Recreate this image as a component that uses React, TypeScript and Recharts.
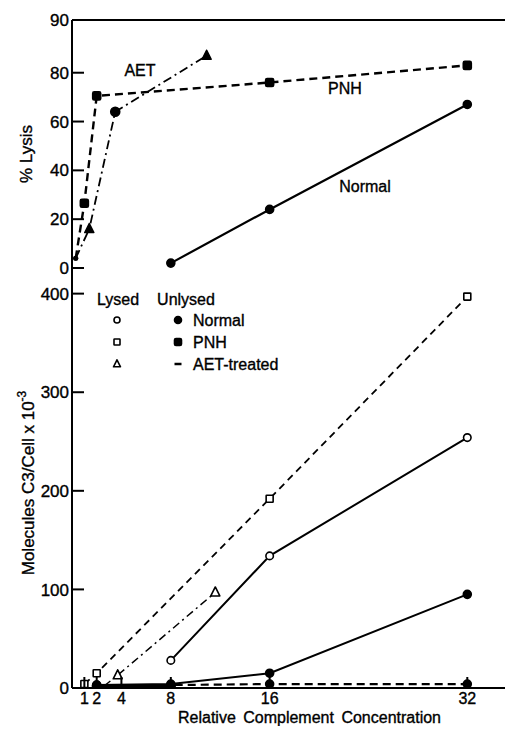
import React from 'react';
import { LineChart, Line, XAxis, YAxis, ReferenceLine } from 'recharts';

// ---------- axes ----------
const concTicks = [1, 2, 4, 8, 16, 32];
const concMax = 35.7;
const lysisTicks = [0, 20, 40, 60, 80, 101.6];
const lysisTickLabels = ['0', '20', '40', '60', '80', '90'];
const lysisMax = 101.6;
const c3Ticks = [0, 100, 200, 300, 400];
const c3Max = 426;

// ---------- top panel: % lysis ----------
const lysisNormalX = [8, 16, 32];
const lysisNormalY = [2, 24, 67];
const lysisPnhX = [0.3, 1, 2, 16, 32];
const lysisPnhY = [4, 26.5, 70.5, 76, 83];
const lysisAetX = [0.3, 1.4, 3.5, 10.9];
const lysisAetY = [4, 16, 64, 87];

// ---------- bottom panel: molecules C3 / cell ----------
const normalLysedX = [8, 16, 32];
const normalLysedY = [28, 134, 254];
const normalUnlysedX = [2, 8, 16, 32];
const normalUnlysedY = [3, 4, 15, 95];
const pnhLysedX = [1, 2, 16, 32];
const pnhLysedY = [4, 15, 192, 397];
const pnhUnlysedX = [2, 8, 16, 32];
const pnhUnlysedY = [3, 3, 4, 4];
const aetLysedX = [2.6, 3.7, 11.6];
const aetLysedY = [2, 13, 97];
const aetUnlysedX = [2, 4, 8];
const aetUnlysedY = [2, 2, 2];

const zip = (xs: number[], ys: number[]) => xs.map((x, i) => ({ x, y: ys[i] }));

const FONT = '"Liberation Sans", Arial, sans-serif';
const TXT = { stroke: '#000', strokeWidth: 0.35 };

type Shape = 'circle' | 'square' | 'triangle' | 'dash' | 'small' | 'none';

function Marker({ cx, cy, shape, filled, size }: { cx: number; cy: number; shape: Shape; filled: boolean; size: number }) {
  const fill = filled ? '#000' : '#fff';
  const sw = 1.6;
  if (shape === 'circle') return <circle cx={cx} cy={cy} r={size / 2} fill={fill} stroke="#000" strokeWidth={sw} />;
  if (shape === 'square')
    return <rect x={cx - size / 2} y={cy - size / 2} width={size} height={size} rx={filled ? 1.5 : 0.5} fill={fill} stroke="#000" strokeWidth={sw} />;
  if (shape === 'triangle') {
    const pts = `${cx},${cy - size * 0.6} ${cx - size / 2},${cy + size * 0.4} ${cx + size / 2},${cy + size * 0.4}`;
    return <polygon points={pts} fill={fill} stroke="#000" strokeWidth={sw} strokeLinejoin="round" />;
  }
  if (shape === 'dash') return <line x1={cx - size / 2} x2={cx + size / 2} y1={cy} y2={cy} stroke="#000" strokeWidth={2.5} />;
  if (shape === 'small') return <circle cx={cx} cy={cy} r={2.5} fill="#000" />;
  return null;
}

const makeDot = (shapes: Shape[], filled: boolean, size: number) => (props: any) => {
  const { cx, cy, index } = props;
  return (
    <g key={`dot-${index}`}>
      <Marker cx={cx} cy={cy} shape={shapes[index]} filled={filled} size={size} />
    </g>
  );
};

const XTick = (showLabel: boolean) => (props: any) => {
  const { x, y, payload } = props;
  return (
    <g>
      <line x1={x} x2={x} y1={y} y2={y - 11} stroke="#000" strokeWidth={2} />
      {showLabel && (
        <text x={x} y={y + 16} textAnchor="middle" fontSize={16} fontFamily={FONT} fill="#000" {...TXT}>
          {payload.value}
        </text>
      )}
    </g>
  );
};

const YTick = (labels: string[] | null, ticks: number[], max: number) => (props: any) => {
  const { x, y, payload } = props;
  const i = ticks.indexOf(payload.value);
  const label = labels ? labels[i] : String(payload.value);
  return (
    <g>
      {payload.value !== max && <line x1={x} x2={x + 12} y1={y} y2={y} stroke="#000" strokeWidth={2} />}
      <text x={x - 3} y={y} dy="0.36em" textAnchor="end" fontSize={17} fontFamily={FONT} fill="#000" {...TXT}>
        {label}
      </text>
    </g>
  );
};

const axisLine = { stroke: '#000', strokeWidth: 2 };

export default function App() {
  return (
    <div style={{ position: 'relative', width: 505, height: 718, fontFamily: FONT }}>
      {/* top panel */}
      <div style={{ position: 'absolute', left: 0, top: 0 }}>
        <LineChart width={505} height={280} margin={{ top: 12, right: 0, bottom: 20, left: 0 }}>
          <XAxis
            type="number"
            dataKey="x"
            domain={[0, concMax]}
            ticks={concTicks}
            interval={0}
            allowDataOverflow
            height={0}
            tickSize={0}
            tickMargin={0}
            tickLine={false}
            axisLine={axisLine}
            tick={XTick(false)}
          />
          <YAxis
            type="number"
            domain={[0, lysisMax]}
            ticks={lysisTicks}
            interval={0}
            allowDataOverflow
            width={64}
            tickSize={0}
            tickMargin={0}
            tickLine={false}
            axisLine={axisLine}
            tick={YTick(lysisTickLabels, lysisTicks, lysisMax)}
          />
          <ReferenceLine y={lysisMax} stroke="#000" strokeWidth={2} />
          <Line data={zip(lysisNormalX, lysisNormalY)} dataKey="y" type="linear" stroke="#000" strokeWidth={2.2}
            dot={makeDot(['circle', 'circle', 'circle'], true, 8)} activeDot={false} isAnimationActive={false} />
          <Line data={zip(lysisPnhX, lysisPnhY)} dataKey="y" type="linear" stroke="#000" strokeWidth={2.4} strokeDasharray="8 5"
            dot={makeDot(['small', 'square', 'square', 'square', 'square'], true, 8)} activeDot={false} isAnimationActive={false} />
          <Line data={zip(lysisAetX, lysisAetY)} dataKey="y" type="linear" stroke="#000" strokeWidth={1.8} strokeDasharray="9 4 2 4"
            dot={makeDot(['small', 'triangle', 'circle', 'triangle'], true, 9)} activeDot={false} isAnimationActive={false} />
        </LineChart>
      </div>

      {/* bottom panel */}
      <div style={{ position: 'absolute', left: 0, top: 260 }}>
        <LineChart width={505} height={458} margin={{ top: 0, right: 0, bottom: 0, left: 0 }}>
          <XAxis
            type="number"
            dataKey="x"
            domain={[0, concMax]}
            ticks={concTicks}
            interval={0}
            allowDataOverflow
            height={38}
            tickSize={0}
            tickMargin={0}
            tickLine={false}
            axisLine={axisLine}
            tick={XTick(true)}
          />
          <YAxis
            type="number"
            domain={[0, c3Max]}
            ticks={c3Ticks}
            interval={0}
            allowDataOverflow
            width={64}
            tickSize={0}
            tickMargin={0}
            tickLine={false}
            axisLine={axisLine}
            tick={YTick(null, c3Ticks, -1)}
          />
          <Line data={zip(aetUnlysedX, aetUnlysedY)} dataKey="y" type="linear" stroke="#000" strokeWidth={2.5}
            dot={makeDot(['dash', 'dash', 'dash'], true, 10)} activeDot={false} isAnimationActive={false} />
          <Line data={zip(pnhUnlysedX, pnhUnlysedY)} dataKey="y" type="linear" stroke="#000" strokeWidth={2.2} strokeDasharray="8 5"
            dot={makeDot(['circle', 'circle', 'circle', 'circle'], true, 8)} activeDot={false} isAnimationActive={false} />
          <Line data={zip(normalUnlysedX, normalUnlysedY)} dataKey="y" type="linear" stroke="#000" strokeWidth={2}
            dot={makeDot(['circle', 'circle', 'circle', 'circle'], true, 8)} activeDot={false} isAnimationActive={false} />
          <Line data={zip(normalLysedX, normalLysedY)} dataKey="y" type="linear" stroke="#000" strokeWidth={2}
            dot={makeDot(['circle', 'circle', 'circle'], false, 7.5)} activeDot={false} isAnimationActive={false} />
          <Line data={zip(pnhLysedX, pnhLysedY)} dataKey="y" type="linear" stroke="#000" strokeWidth={1.8} strokeDasharray="7 5"
            dot={makeDot(['square', 'square', 'square', 'square'], false, 7)} activeDot={false} isAnimationActive={false} />
          <Line data={zip(aetLysedX, aetLysedY)} dataKey="y" type="linear" stroke="#000" strokeWidth={1.5} strokeDasharray="8 4 2 4"
            dot={makeDot(['none', 'triangle', 'triangle'], false, 9)} activeDot={false} isAnimationActive={false} />
        </LineChart>
      </div>

      {/* annotations, legend and axis titles */}
      <svg width={505} height={718} style={{ position: 'absolute', left: 0, top: 0, pointerEvents: 'none' }}>
        <g fontFamily={FONT} fontSize={16} fill="#000" textAnchor="middle" {...TXT}>
          <text x={132} y={62} dy="0.36em">AET</text>
          <text x={337} y={80} dy="0.36em">PNH</text>
          <text x={357} y={178} dy="0.36em">Normal</text>
          <text transform="translate(18,146) rotate(-90)" dy="0.36em" fontSize={17}>% Lysis</text>
          <text transform="translate(20,475) rotate(-90)" dy="0.36em" fontSize={17}>
            Molecules C3/Cell x 10<tspan fontSize={12} dy="-0.7em">-3</tspan>
          </text>
          <text x={301.5} y={709} dy="0.36em" fontSize={16} wordSpacing={3}>Relative Complement Concentration</text>
          <text x={110} y={291} dy="0.36em">Lysed</text>
          <text x={178} y={291} dy="0.36em">Unlysed</text>
        </g>
        <g fontFamily={FONT} fontSize={16} fill="#000" textAnchor="start" {...TXT}>
          <text x={185} y={312} dy="0.36em">Normal</text>
          <text x={185} y={334} dy="0.36em">PNH</text>
          <text x={185} y={356} dy="0.36em">AET-treated</text>
        </g>
        <Marker cx={109} cy={312} shape="circle" filled={false} size={6} />
        <Marker cx={109} cy={334} shape="square" filled={false} size={6} />
        <Marker cx={109} cy={356} shape="triangle" filled={false} size={7} />
        <Marker cx={170} cy={312} shape="circle" filled={true} size={7} />
        <Marker cx={170} cy={334} shape="square" filled={true} size={7} />
        <Marker cx={170} cy={356} shape="dash" filled={true} size={7} />
      </svg>
    </div>
  );
}
